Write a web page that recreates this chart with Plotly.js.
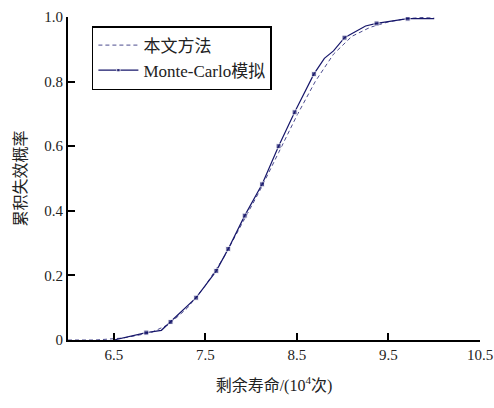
<!DOCTYPE html>
<html>
<head>
<meta charset="utf-8">
<script src="https://cdn.plot.ly/plotly-3.0.1.min.js"></script>
<style>html,body{margin:0;padding:0;background:#fff;}#chart{width:494px;height:408px;}</style>
</head>
<body>
<div id="chart"></div>
<script>
// Data
var methodName = "本文方法";
var mcName = "Monte-Carlo模拟";
var methodX = [6.0, 6.3, 6.6, 6.9, 7.1, 7.3, 7.5, 7.7, 7.9, 8.1, 8.3, 8.5, 8.7, 8.9, 9.1, 9.3, 9.5, 9.7, 9.9, 10.0];
var methodY = [0.0, 0.0, 0.006, 0.022, 0.048, 0.098, 0.168, 0.255, 0.36, 0.465, 0.58, 0.695, 0.80, 0.885, 0.94, 0.968, 0.985, 0.995, 0.999, 1.0];
var mcX = [6.5, 6.855, 7.02, 7.12, 7.40, 7.62, 7.75, 7.93, 8.12, 8.30, 8.475, 8.685, 8.80, 8.90, 9.02, 9.25, 9.37, 9.71, 10.0];
var mcY = [0.0, 0.023, 0.03, 0.056, 0.131, 0.214, 0.282, 0.385, 0.482, 0.60, 0.705, 0.823, 0.872, 0.895, 0.936, 0.972, 0.98, 0.995, 0.995];
// which Monte-Carlo vertices carry a marker in the reference
var mcMarked = [false, true, false, true, true, true, true, true, true, true, true, true, false, false, true, false, true, true, false];
var xTickVals = [6.5, 7.5, 8.5, 9.5, 10.5];
var xTickText = ["6.5", "7.5", "8.5", "9.5", "10.5"];
var yTickVals = [0, 0.2, 0.4, 0.6, 0.8, 1.0];
var yTickText = ["0", "0.2", "0.4", "0.6", "0.8", "1.0"];
var xTitle = "剩余寿命/(10<sup>4</sup>次)";
var yTitle = "累积失效概率";

var fontFam = "'Liberation Serif', 'Noto Sans CJK SC', serif";

var traces = [
  {
    x: methodX, y: methodY, name: methodName, type: "scatter", mode: "lines",
    line: {color: "#4a4a8e", width: 1, dash: "4px,3px"}
  },
  {
    x: mcX, y: mcY, name: mcName, type: "scatter", mode: "lines+markers",
    line: {color: "#16166a", width: 1.2},
    marker: {symbol: "square", size: mcMarked.map(function (m) { return m ? 5 : 0; }), color: "#16166a"}
  }
];

var layout = {
  width: 494, height: 408,
  margin: {l: 68, r: 14, t: 17, b: 68},
  paper_bgcolor: "#fff", plot_bgcolor: "#fff",
  font: {family: fontFam, size: 15, color: "#222"},
  showlegend: true,
  legend: {
    x: 0.058, y: 0.972, xanchor: "left", yanchor: "top",
    bgcolor: "#fff", bordercolor: "#000", borderwidth: 1.5,
    font: {family: fontFam, size: 17, color: "#222"},
    itemwidth: 40
  },
  xaxis: {
    range: [6.0, 10.5], tickvals: xTickVals, ticktext: xTickText,
    ticks: "inside", ticklen: 7, tickwidth: 2, tickcolor: "#000",
    showline: true, linecolor: "#000", linewidth: 2, mirror: false,
    showgrid: false, zeroline: false,
    tickfont: {family: fontFam, size: 15, color: "#222"},
    title: {text: xTitle, font: {family: fontFam, size: 16, color: "#222"}, standoff: 18}
  },
  yaxis: {
    range: [0, 1.0], tickvals: yTickVals, ticktext: yTickText,
    ticks: "inside", ticklen: 7, tickwidth: 2, tickcolor: "#000",
    showline: true, linecolor: "#000", linewidth: 2, mirror: false,
    showgrid: false, zeroline: false,
    tickfont: {family: fontFam, size: 15, color: "#222"},
    title: {text: yTitle, font: {family: fontFam, size: 16, color: "#222"}, standoff: 14}
  }
};

Plotly.newPlot("chart", traces, layout, {displayModeBar: false, staticPlot: true});
</script>
</body>
</html>
